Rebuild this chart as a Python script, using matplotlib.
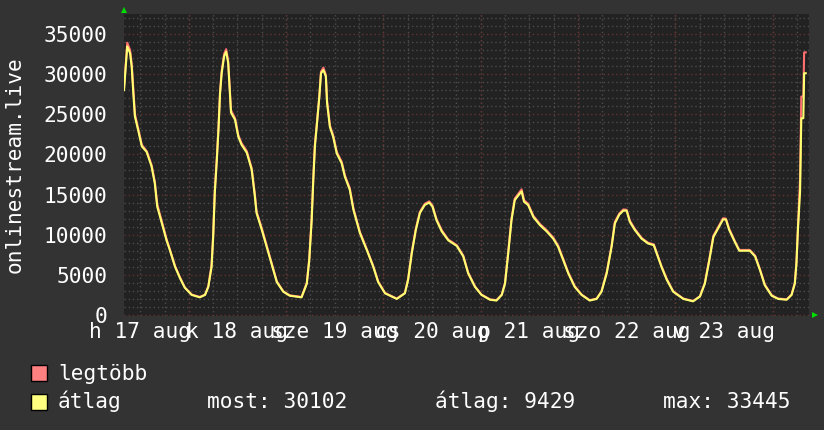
import matplotlib
matplotlib.use('Agg')
import matplotlib.pyplot as plt
from matplotlib.patches import Rectangle

# hours since 17 aug 08:00
hours = [0, 0.8, 1.5, 1.9, 2.3, 2.7, 3.5, 4.4, 5.6, 6.8,
         7.6, 8.2, 9.3, 10.5, 11.3, 12.6, 13.8, 15.0, 16.7, 18.7,
         20.0, 20.8, 21.6, 22.0, 22.4, 22.9, 23.3, 23.7, 24.1, 24.7,
         25.2, 25.7, 26.4, 27.4, 28.2, 29.0, 30.3, 31.5, 32.3, 32.7,
         34.0, 35.2, 36.4, 37.7, 39.3, 40.9, 43.8, 45.1, 45.7, 46.3,
         46.7, 47.1, 47.7, 48.2, 48.6, 49.2, 49.8, 50.1, 50.8, 51.6,
         52.5, 53.7, 54.5, 55.7, 56.6, 58.2, 59.9, 61.5, 62.7, 64.4,
         67.3, 69.3, 70.1, 71.0, 72.0, 73.0, 74.2, 75.3, 76.1, 77.1,
         78.4, 80.0, 82.1, 83.7, 84.9, 86.6, 88.2, 90.3, 91.9, 93.2,
         94.0, 94.8, 95.6, 96.4, 97.3, 98.1, 98.7, 99.7, 101.0, 102.6,
         104.3, 105.9, 107.1, 108.4, 109.6, 111.2, 112.9, 114.9, 116.6, 117.8,
         119.1, 120.3, 121.1, 122.2, 123.2, 124.0, 124.8, 126.0, 127.7, 129.3,
         130.7, 131.4, 132.6, 133.9, 135.5, 138.0, 140.4, 142.1, 143.3, 144.4,
         145.4, 146.6, 147.8, 148.5, 149.3, 150.7, 151.8, 153.2, 154.4, 155.7,
         156.9, 158.1, 159.8, 161.4, 163.5, 164.7, 165.5, 165.9, 166.3, 166.8,
         167.1, 167.6, 167.8, 168.2]

atlag = [28000, 33445, 32600, 30900, 27600, 24700, 23000, 21000, 20300, 18500,
         16400, 13500, 11500, 9300, 8100, 6000, 4600, 3400, 2500, 2200,
         2500, 3500, 6000, 9700, 15200, 19300, 23000, 27600, 30100, 32200,
         32800, 31400, 25200, 24300, 22200, 21200, 20200, 18100, 14700, 12700,
         10600, 8500, 6400, 4100, 2900, 2400, 2200, 3900, 6800, 11800,
         16800, 21000, 24300, 27200, 30100, 30500, 29700, 26400, 23400, 22200,
         20100, 18900, 17200, 15600, 13100, 10200, 8100, 6000, 4100, 2700,
         2000, 2700, 4400, 7700, 10600, 12700, 13700, 14000, 13500, 11800,
         10400, 9300, 8600, 7300, 5200, 3500, 2500, 1900, 1800, 2500,
         3900, 7700, 11800, 14300, 14900, 15400, 14100, 13700, 12200, 11200,
         10400, 9500, 8500, 6800, 5200, 3500, 2500, 1800, 2000, 2900,
         5200, 8500, 11400, 12500, 13000, 13000, 11600, 10600, 9500, 8900,
         8700, 7700, 6000, 4400, 2900, 2000, 1700, 2300, 3900, 6800,
         9700, 10800, 11900, 11900, 10600, 9100, 8000, 8000, 8000, 7300,
         5600, 3700, 2400, 2000, 1900, 2500, 3900, 6400, 11000, 15400,
         24500, 24500, 30100, 30102]

legtobb = [28200, 33900, 33000, 31300, 28100, 25000, 23200, 21200, 20400, 18700,
           16600, 13800, 11700, 9450, 8200, 6100, 4700, 3450, 2550, 2250,
           2550, 3600, 6200, 10000, 15500, 19600, 23300, 27900, 30400, 32500,
           33100, 31700, 25500, 24500, 22400, 21400, 20400, 18300, 15000, 12900,
           10800, 8650, 6500, 4200, 2950, 2450, 2250, 4000, 7000, 12100,
           17100, 21300, 24500, 27400, 30300, 30800, 29900, 26700, 23600, 22400,
           20300, 19100, 17400, 15800, 13300, 10350, 8200, 6100, 4200, 2750,
           2050, 2750, 4500, 7850, 10750, 12850, 13850, 14150, 13650, 11950,
           10550, 9400, 8700, 7400, 5300, 3550, 2550, 1950, 1850, 2550,
           4000, 7900, 12000, 14500, 15100, 15650, 14300, 13850, 12350, 11350,
           10550, 9650, 8650, 6950, 5300, 3600, 2550, 1850, 2050, 2950,
           5350, 8650, 11600, 12650, 13150, 13100, 11750, 10750, 9600, 9000,
           8800, 7800, 6100, 4500, 2950, 2050, 1750, 2350, 4000, 6950,
           9850, 10950, 12050, 12000, 10750, 9200, 8100, 8100, 8100, 7400,
           5700, 3800, 2450, 2050, 1950, 2550, 4000, 6600, 11300, 17000,
           27200, 27200, 32700, 32700]

day_labels = ['h 17 aug', 'k 18 aug', 'sze 19 aug', 'cs 20 aug',
              'p 21 aug', 'szo 22 aug', 'v 23 aug']
noon_hours = [4, 28, 52, 76, 100, 124, 148]
midnight_hours = [16, 40, 64, 88, 112, 136, 160]

FONT = 'DejaVu Sans Mono'
FS = 15.2
W, H = 824, 430

fig = plt.figure(figsize=(8.24, 4.30), dpi=100)
fig.patch.set_facecolor('#333333')
ax = fig.add_axes([124 / W, (H - 316) / H, 685 / W, 302 / H])
ax.set_facecolor('#222222')

ax.set_xlim(0, 169)
ax.set_ylim(-125, 37480)

# grid
for v in range(0, 37001, 1000):
    if v % 5000 == 0:
        continue
    ax.axhline(v, color='#4c4c4c', lw=1, ls=(0, (1, 2)), zorder=1)
for h in range(4, 169, 6):
    ax.axvline(h, color='#4c4c4c', lw=1, ls=(0, (1, 2)), zorder=1)
for v in range(0, 36000, 5000):
    ax.axhline(v, color='#633232', lw=1, ls=(0, (1, 2)), zorder=1)
for h in midnight_hours:
    ax.axvline(h, color='#633232', lw=1, ls=(0, (1, 2)), zorder=1)

ax.plot(hours, legtobb, color='#ff7070', lw=1.5, zorder=3)
ax.plot(hours, atlag, color='#ffff70', lw=1.5, zorder=4)

for s in ax.spines.values():
    s.set_visible(False)

ax.set_yticks(range(0, 36000, 5000))
ax.set_yticklabels([str(v) for v in range(0, 36000, 5000)],
                   fontfamily=FONT, fontsize=FS, color='white')
ax.set_xticks(noon_hours)
ax.set_xticklabels(day_labels, fontfamily=FONT, fontsize=FS, color='white')
ax.tick_params(axis='y', length=0, pad=12)
ax.tick_params(axis='x', length=0, pad=4)

# green arrows
ax.plot([0], [1.013], marker='^', color='#00dd00', ms=5, mew=0,
        transform=ax.transAxes, clip_on=False)
ax.plot([1.009], [0.004], marker='>', color='#00dd00', ms=5, mew=0,
        transform=ax.transAxes, clip_on=False)

fig.text(15 / W, 1 - 165 / H, 'onlinestream.live', rotation=90,
         ha='center', va='center', fontfamily=FONT, fontsize=FS, color='white')

# legend
fig.add_artist(Rectangle((31 / W, 1 - 381 / H), 16 / W, 16 / H,
                         transform=fig.transFigure, facecolor='#ff8080',
                         edgecolor='black', lw=1))
fig.add_artist(Rectangle((31 / W, 1 - 410 / H), 16 / W, 16 / H,
                         transform=fig.transFigure, facecolor='#ffff80',
                         edgecolor='black', lw=1))
fig.text(58 / W, 1 - 380 / H, 'legtöbb', va='baseline',
         fontfamily=FONT, fontsize=FS, color='white')
fig.text(58 / W, 1 - 408 / H, 'átlag', va='baseline',
         fontfamily=FONT, fontsize=FS, color='white')
fig.text(207 / W, 1 - 408 / H, 'most: 30102', va='baseline',
         fontfamily=FONT, fontsize=FS, color='white')
fig.text(435 / W, 1 - 408 / H, 'átlag: 9429', va='baseline',
         fontfamily=FONT, fontsize=FS, color='white')
fig.text(663 / W, 1 - 408 / H, 'max: 33445', va='baseline',
         fontfamily=FONT, fontsize=FS, color='white')

fig.savefig('out.png', dpi=100, facecolor=fig.get_facecolor())
